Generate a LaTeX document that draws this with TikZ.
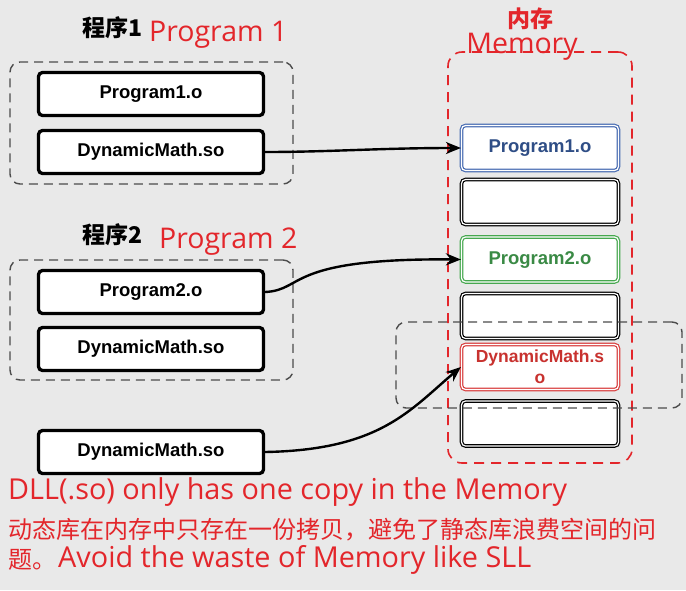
\documentclass[tikz,border=0pt]{standalone}
\usepackage{fontspec}
\setmainfont{Open Sans}
\newfontfamily\cjk{Noto Sans CJK SC}
\newfontfamily\lab{Liberation Sans}
\usetikzlibrary{arrows.meta}
\definecolor{bg}{HTML}{E9E9E9}
\definecolor{rtxt}{HTML}{E3262B}
\definecolor{bluebd}{HTML}{4A6DB3}
\definecolor{bluetx}{HTML}{2F4E86}
\definecolor{greenbd}{HTML}{46A84F}
\definecolor{greentx}{HTML}{3A8A45}
\definecolor{redbd}{HTML}{D9403F}
\definecolor{redtx}{HTML}{C8322F}
\tikzset{
  blk/.style={draw=black, line width=3.3pt, fill=white, rounded corners=4pt,
    minimum width=225pt, minimum height=43pt, inner sep=0pt,
    font=\lab\bfseries\fontsize{18.5}{20}\selectfont},
  slot/.style={line width=1.2pt, double=white, double distance=1.2pt, fill=white,
    rounded corners=4pt, minimum width=157pt, minimum height=45pt, inner sep=0pt,
    font=\lab\bfseries\fontsize{18.5}{20}\selectfont, align=center},
  grp/.style={draw=black!70, dash pattern=on 9pt off 6pt, line width=1.4pt, rounded corners=10pt},
  memgrp/.style={draw=rtxt, dash pattern=on 10pt off 7pt, line width=1.6pt, rounded corners=14pt},
  conn/.style={line width=2.4pt, -{Stealth[length=15pt,width=12pt]}},
  redlbl/.style={text=rtxt, inner sep=0pt, anchor=west},
}
\begin{document}
\begin{tikzpicture}[x=1pt,y=-1pt]
\fill[bg] (0,0) rectangle (686,590);
\useasboundingbox (0,0) rectangle (686,590);

% program 1
\node[inner sep=0pt, anchor=west, font=\cjk\bfseries\fontsize{23}{25}\selectfont] (t1) at (82,28) {程序1};
\node[redlbl, font=\fontsize{28.5}{32}\selectfont] (t1e) at (149,35) {Program 1};
\node[grp, minimum width=283pt, minimum height=122pt] (g1) at (151.5,123) {};
\node[blk] (p1o) at (151,94) {Program1.o};
\node[blk] (d1) at (151,152) {DynamicMath.so};

% program 2
\node[inner sep=0pt, anchor=west, font=\cjk\bfseries\fontsize{23}{25}\selectfont] (t2) at (82,235) {程序2};
\node[redlbl, font=\fontsize{28.5}{32}\selectfont] (t2e) at (159,242) {Program 2};
\node[grp, minimum width=283pt, minimum height=120pt] (g2) at (151.5,320) {};
\node[blk] (p2o) at (151,292) {Program2.o};
\node[blk] (d2) at (151,349) {DynamicMath.so};

% standalone lib
\node[blk] (d3) at (151,452) {DynamicMath.so};

% memory
\node[text=rtxt, inner sep=0pt, font=\cjk\bfseries\fontsize{23}{25}\selectfont] (mt) at (530,19) {内存};
\node[text=rtxt, inner sep=0pt, font=\fontsize{28.5}{32}\selectfont] (mte) at (522,47) {Memory};
\node[memgrp, minimum width=184pt, minimum height=411pt] (mem) at (540,257.5) {};
\node[slot, draw=bluebd, text=bluetx] (m1) at (540,148) {Program1.o};
\node[slot, draw=black] (m2) at (540,202) {};
\node[slot, draw=greenbd, text=greentx] (m3) at (540,259.5) {Program2.o};
\node[slot, draw=black] (m4) at (540,316) {};
\node[slot, draw=redbd, text=redtx, font=\lab\bfseries\fontsize{17.5}{21}\selectfont] (m5) at (540,367) {DynamicMath.s\\o};
\node[slot, draw=black] (m6) at (540,423.5) {};
\node[grp, minimum width=286pt, minimum height=86pt] (dg) at (539,365) {};

% connectors
\draw[conn] (d1.east) .. controls (330,152) and (380,148) .. (m1.west);
\draw[conn] (p2o.east) .. controls (305,290) and (285,258) .. (m3.west);
\draw[conn] (d3.east) .. controls (380,450) and (410,410) .. (m5.west);

% bottom text
\node[redlbl, font=\fontsize{28.8}{32}\selectfont] (b1) at (8,492) {DLL(.so) only has one copy in the Memory};
\node[redlbl, font=\cjk\fontsize{24}{28}\selectfont] (b2) at (8,530) {动态库在内存中只存在一份拷贝，避免了静态库浪费空间的问};
\node[redlbl, font=\cjk\fontsize{24}{28}\selectfont] (b3) at (8,560) {题。};
\node[redlbl, font=\fontsize{28.8}{32}\selectfont] (b4) at (58,560) {Avoid the waste of Memory like SLL};
\end{tikzpicture}
\end{document}
